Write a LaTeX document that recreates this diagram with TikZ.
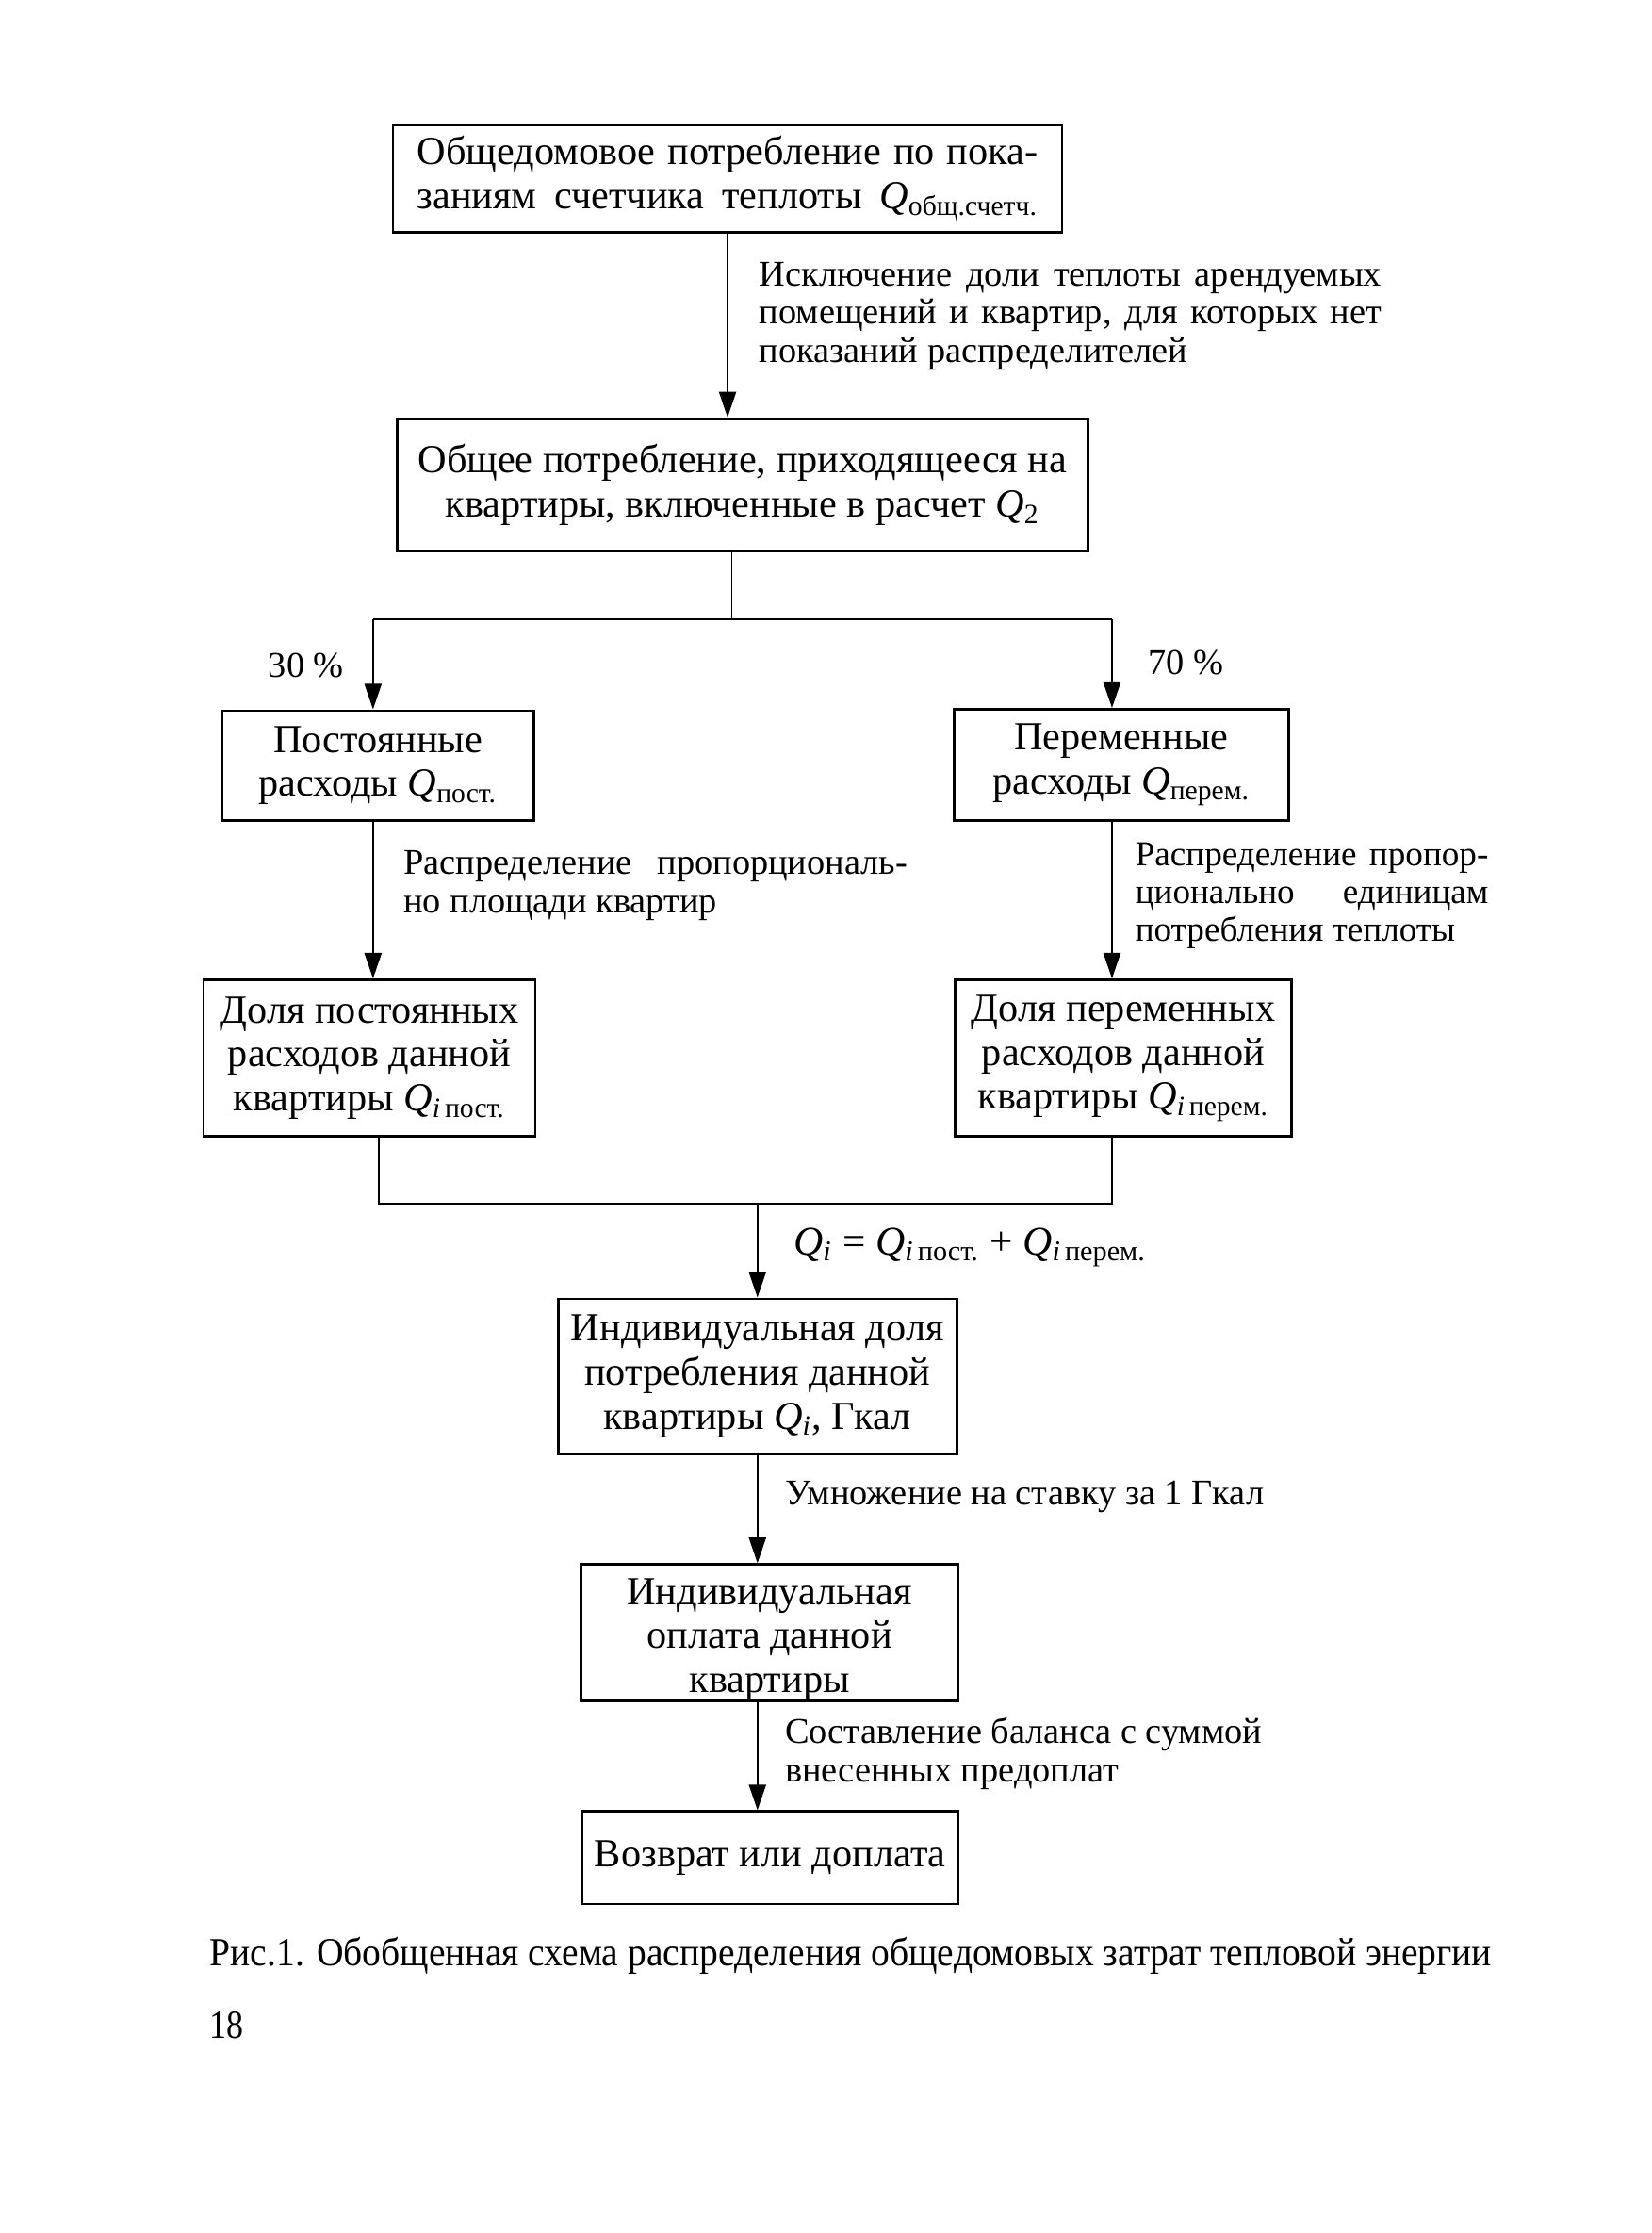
\documentclass[tikz,border=0pt]{standalone}
\usepackage{fontspec}
\usepackage{graphicx}
\setmainfont{Liberation Serif}
\usetikzlibrary{arrows.meta}
\tikzset{
  box/.style={draw, line width=0.9pt, inner sep=0pt, align=center,
    font=\fontsize{14}{15.5}\selectfont},
  lbl/.style={inner sep=0pt, align=left, anchor=west,
    font=\fontsize{12.7}{13.5}\selectfont},
  conn/.style={line width=0.6pt},
  arr/.style={line width=0.6pt, -{Triangle[length=9pt,width=6pt]}},
}
\newcommand{\Qs}[1]{\textit{Q}\textsubscript{#1}}
\newcommand{\Qi}[1]{\textit{Q}\textsubscript{\textit{i}\,#1}}
\begin{document}
\begin{tikzpicture}[x=0.5pt,y=-0.5pt]
\useasboundingbox (0,0) rectangle (1160,1568);
% boxes
\node[box, minimum width=235pt, minimum height=37.5pt] (b1) at (511,125.5)
  {\makebox[218pt][s]{Общедомовое потребление по пока-}\\
   \makebox[218pt][s]{заниям счетчика теплоты \Qs{общ.счетч.}}};
\node[box, minimum width=242.5pt, minimum height=46.5pt] (b2) at (521.5,340.5)
  {Общее потребление, приходящееся на\\квартиры, включенные в расчет \Qs{2}};
\node[box, minimum width=109.5pt, minimum height=38.5pt] (b3) at (265.5,537.5)
  {Постоянные\\расходы \Qs{пост.}};
\node[box, minimum width=117.5pt, minimum height=39pt] (b4) at (787.5,537)
  {Переменные\\расходы \Qs{перем.}};
\node[box, minimum width=116.5pt, minimum height=55pt] (b5) at (259.5,743)
  {Доля постоянных\\расходов данной\\квартиры \Qi{пост.}};
\node[box, minimum width=118pt, minimum height=55pt] (b6) at (789,743)
  {Доля переменных\\расходов данной\\квартиры \Qi{перем.}};
\node[box, minimum width=140pt, minimum height=54.5pt] (b7) at (532,966.5)
  {Индивидуальная доля\\потребления данной\\квартиры \Qs{\textit{i}}, Гкал};
\node[box, minimum width=132.5pt, minimum height=46.5pt] (b8) at (540.5,1146.5)
  {\rule{0pt}{14pt}Индивидуальная\\оплата данной\\квартиры};
\node[box, minimum width=132pt, minimum height=32.5pt] (b9) at (541,1304.5)
  {Возврат или доплата};
% connectors
\draw[arr] (b1.south) -- (b1.south |- b2.north);
\coordinate (s1) at (514,435);
\coordinate (lx) at (262,435);
\coordinate (rx) at (781,435);
\draw[conn] (b2.south -| s1) -- (s1);
\draw[conn] (lx) -- (rx);
\draw[arr] (lx) -- (lx |- b3.north);
\draw[arr] (rx) -- (rx |- b4.north);
\draw[arr] (b3.south -| lx) -- (lx |- b5.north);
\draw[arr] (b4.south -| rx) -- (rx |- b6.north);
\coordinate (jl) at (266,845);
\coordinate (jr) at (781,845);
\coordinate (jm) at (532,845);
\draw[conn] (b5.south -| jl) -- (jl) -- (jr) -- (b6.south -| jr);
\draw[arr] (jm) -- (jm |- b7.north);
\draw[arr] (b7.south) -- (b7.south |- b8.north);
\draw[arr] (b8.south -| b7.south) -- (b7.south |- b9.north);
% labels
\node[lbl] (l1) at (533,222)
  {\makebox[218.5pt][s]{Исключение доли теплоты арендуемых}\\
   \makebox[218.5pt][s]{помещений и квартир, для которых нет}\\
   показаний распределителей};
\node[lbl, anchor=center] (p30) at (215,467) {30 \%};
\node[lbl, anchor=center] (p70) at (833,465) {70 \%};
\node[lbl] (l3) at (283,622)
  {\makebox[177pt][s]{Распределение пропорциональ-}\\
   но площади квартир};
\node[lbl, font=\fontsize{12.3}{13.3}\selectfont] (l4) at (797,629)
  {\makebox[124pt][s]{Распределение пропор-}\\
   \makebox[124pt][s]{ционально единицам}\\
   потребления теплоты};
\node[lbl, font=\fontsize{14.3}{15}\selectfont] (eq) at (557,876)
  {\Qs{\textit{i}} = \Qi{пост.} + \Qi{перем.}};
\node[lbl] (l7) at (551,1051) {Умножение на ставку за 1 Гкал};
\node[lbl] (l8) at (551,1231.5)
  {\makebox[167.5pt][s]{Составление баланса с суммой}\\
   внесенных предоплат};
% caption
\node[lbl, font=\fontsize{14}{16}\selectfont] (cap) at (147,1373)
  {\scalebox{0.935}[1]{Рис.1. Обобщенная схема распределения общедомовых затрат тепловой энергии}};
\node[lbl, font=\fontsize{14}{16}\selectfont] (pg) at (147,1422)
  {\scalebox{0.85}[1]{18}};
\end{tikzpicture}
\end{document}
